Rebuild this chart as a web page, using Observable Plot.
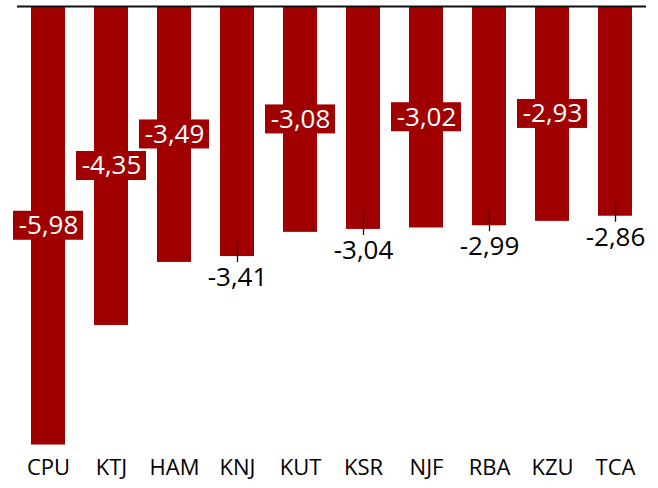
<!DOCTYPE html>
<html>
<head>
<meta charset="utf-8">
<script src="https://cdn.jsdelivr.net/npm/d3@7"></script>
<script src="https://cdn.jsdelivr.net/npm/@observablehq/plot@0.6"></script>
<style>
  html, body { margin: 0; padding: 0; background: #fff; }
  #chart svg { display: block; }
</style>
</head>
<body>
<div id="chart"></div>
<script>
const categories = ["CPU", "KTJ", "HAM", "KNJ", "KUT", "KSR", "NJF", "RBA", "KZU", "TCA"];
const values = [-5.98, -4.35, -3.49, -3.41, -3.08, -3.04, -3.02, -2.99, -2.93, -2.86];
const labelInside = [true, true, true, false, true, false, true, false, true, false];

const data = categories.map((c, i) => ({
  cat: c,
  v: values[i],
  inside: labelInside[i],
  label: values[i].toFixed(2).replace(".", ",")
}));
const insideData = data.filter(d => d.inside);
const outsideData = data.filter(d => !d.inside);

const RED = "#a00000";
const FONT = "'Open Sans', 'Noto Sans', sans-serif";

const chart = Plot.plot({
  width: 658,
  height: 488,
  marginTop: 6,
  marginBottom: 42,
  marginLeft: 17,
  marginRight: 12,
  style: { fontFamily: FONT, background: "#fff" },
  x: { domain: categories, paddingInner: 0.46, paddingOuter: 0.222, axis: null },
  y: { domain: [-6, 0], axis: null },
  marks: [
    Plot.barY(data, { x: "cat", y: "v", fill: RED }),
    Plot.ruleY([0], { stroke: "#111", strokeWidth: 2 }),
    Plot.axisX({ tickSize: 0, tickPadding: 13, fontSize: 22, fill: "#000", label: null, fontFamily: FONT }),
    // inside labels: box + white text at bar midpoint
    Plot.barY(insideData, {
      x: "cat", y1: d => d.v / 2, y2: d => d.v / 2,
      fill: RED, insetTop: -14.5, insetBottom: -14.5, insetLeft: -18, insetRight: -18
    }),
    Plot.text(insideData, {
      x: "cat", y: d => d.v / 2, text: "label", fill: "#fff",
      fontSize: 26, lineAnchor: "middle", fontFamily: FONT
    }),
    // outside labels: tick + black text below bar end
    Plot.ruleX(outsideData, {
      x: "cat", y1: "v", y2: "v", stroke: "#111", strokeWidth: 1.3,
      insetTop: -15, insetBottom: -6
    }),
    Plot.text(outsideData, {
      x: "cat", y: "v", text: "label", fill: "#000",
      fontSize: 26, lineAnchor: "middle", dy: 21, fontFamily: FONT
    })
  ]
});
document.getElementById("chart").appendChild(chart);
</script>
</body>
</html>
